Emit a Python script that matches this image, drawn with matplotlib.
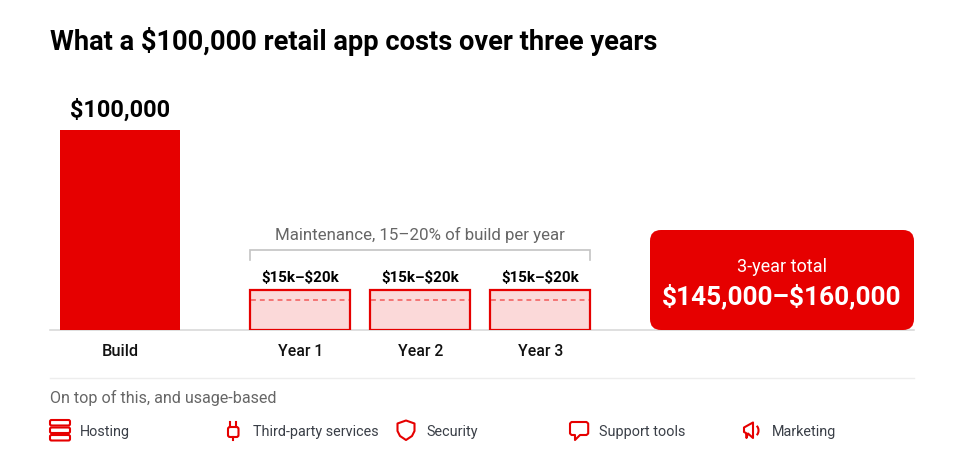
import matplotlib
matplotlib.use('Agg')
import matplotlib.pyplot as plt
from matplotlib.patches import FancyBboxPatch, Polygon, Arc

plt.rcParams['font.family'] = ['Roboto', 'DejaVu Sans']
plt.rcParams['text.parse_math'] = False

W, H = 954, 463
my_dpi = 100.

RED = '#E60000'
PINK = '#FBD9D9'
DASH = '#F25A5A'
GREY = '#C4C4C4'
MUTED = '#666666'
DARK = '#3A3F47'

# values, dollars
build_label = 'Build'
build_value = 100000
year_labels = ['Year 1', 'Year 2', 'Year 3']
year_high = [20000, 20000, 20000]
year_low = [15000, 15000, 15000]
year_texts = ['$15k–$20k', '$15k–$20k', '$15k–$20k']
legend_labels = ['Hosting', 'Third-party services', 'Security', 'Support tools', 'Marketing']

fig = plt.figure(figsize=(W / my_dpi, H / my_dpi), dpi=my_dpi)

# pixel layer for layout stuff, y goes down like the screenshot
px = fig.add_axes([0, 0, 1, 1])
px.set_xlim(0, W)
px.set_ylim(H, 0)
px.axis('off')

# chart layer, baseline at y=330 and $100k at y=130
ax = fig.add_axes([0, (H - 330) / H, 1, 200 / H])
ax.set_xlim(0, W)
ax.set_ylim(0, 100000)
ax.axis('off')
ax.patch.set_alpha(0)

px.text(50, 41.5, 'What a $100,000 retail app costs over three years', fontsize=19.6,
        fontweight='bold', color='black', ha='left', va='center')

# baseline
px.plot([50, 914], [330, 330], color='#D6D6D6', lw=1.1, zorder=1)

# build bar
ax.bar(120, build_value, width=120, color=RED, zorder=2)
px.text(120, 110.5, '$100,000', fontsize=16.9, fontweight='bold', color='black', ha='center', va='center')
px.text(120, 351, build_label, fontsize=11.8, fontweight='medium', color='#111111', ha='center', va='center')

# maintenance years
year_x = [300, 420, 540]
ax.bar(year_x, year_high, width=100, facecolor=PINK, edgecolor=RED, linewidth=1.6, zorder=2)
for x, low, label, txt in zip(year_x, year_low, year_labels, year_texts):
    ax.plot([x - 49, x + 49], [low, low], color=DASH, lw=1.1, dashes=(3.2, 2.6), zorder=3)
    px.text(x, 277.5, txt, fontsize=10.9, fontweight='bold', color='black', ha='center', va='center')
    px.text(x + 0.5, 351, label, fontsize=11.3, fontweight='medium', color='#111111', ha='center', va='center')

# bracket
px.plot([250, 250, 590, 590], [260, 250, 250, 260], color=GREY, lw=1.2, solid_joinstyle='miter')
px.text(420, 235, 'Maintenance, 15–20% of build per year', fontsize=12.2, color=MUTED, ha='center', va='center')

# total box
px.add_patch(FancyBboxPatch((650, 230), 264, 100, boxstyle='round,pad=0,rounding_size=11',
                            facecolor=RED, edgecolor='none', zorder=3))
px.text(782, 267, '3-year total', fontsize=13, color='white', ha='center', va='center', zorder=4)
px.text(782, 296, '$145,000–$160,000', fontsize=18.9, fontweight='bold', color='white', ha='center', va='center', zorder=4)

# lower strip
px.plot([50, 914], [378, 378], color='#EDEDED', lw=1)
px.text(50, 397.5, 'On top of this, and usage-based', fontsize=11.6, color=MUTED, ha='left', va='center')

legend_x = [80, 253, 426, 599, 772]
for x, name in zip(legend_x, legend_labels):
    px.text(x, 432, name, fontsize=10.4, color=DARK, ha='left', va='center')

lw_icon = 1.5
# hosting
for top in [420, 427.5, 435]:
    px.add_patch(FancyBboxPatch((50, top), 20, 5.5, boxstyle='round,pad=0,rounding_size=1.5',
                                facecolor='none', edgecolor=RED, lw=lw_icon))
# plug
px.add_patch(FancyBboxPatch((228, 427), 10.5, 10, boxstyle='round,pad=0,rounding_size=2',
                            facecolor='none', edgecolor=RED, lw=lw_icon))
px.plot([230, 230], [422, 427], color=RED, lw=lw_icon)
px.plot([236.5, 236.5], [422, 427], color=RED, lw=lw_icon)
px.plot([233.2, 233.2], [437, 440], color=RED, lw=lw_icon)
# shield
px.add_patch(Polygon([(406, 420.5), (414.5, 423.5), (414.5, 431), (412, 436), (406, 440),
                      (400, 436), (397.5, 431), (397.5, 423.5)], closed=True,
                     facecolor='none', edgecolor=RED, lw=lw_icon, joinstyle='round'))
# speech bubble
px.add_patch(Polygon([(571.5, 422), (586.5, 422), (588.2, 423.5), (588.2, 433.5), (586.5, 435),
                      (580, 435), (575, 440), (575, 435), (571.5, 435), (570, 433.5), (570, 423.5)],
                     closed=True, facecolor='none', edgecolor=RED, lw=lw_icon, joinstyle='round'))
# megaphone
px.add_patch(Polygon([(753, 422.5), (753, 438), (748, 433.5), (746.5, 438), (746, 433), (744, 432), (744, 427.5)],
                     closed=True, facecolor='none', edgecolor=RED, lw=lw_icon, joinstyle='round'))
px.add_patch(Arc((754.5, 430.5), 8, 11, theta1=-65, theta2=65, color=RED, lw=lw_icon))

fig.savefig('out.png', dpi=my_dpi, facecolor='white')
